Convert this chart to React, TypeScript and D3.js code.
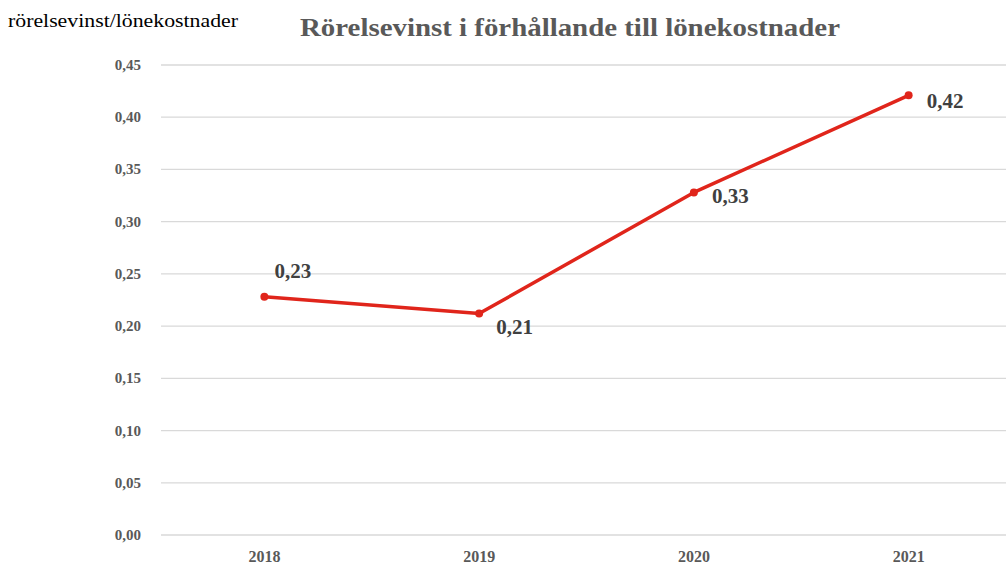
import React from "react";
import * as d3 from "d3";

const years = ["2018", "2019", "2020", "2021"];
const values = [0.228, 0.212, 0.328, 0.421];
const valueLabels = ["0,23", "0,21", "0,33", "0,42"];
const yTicks = [0, 0.05, 0.1, 0.15, 0.2, 0.25, 0.3, 0.35, 0.4, 0.45];
// label offset from its point
const labelOffsets: [number, number][] = [[10, -19], [17, 20], [18, 11], [18, 13]];

const W = 1006, H = 565;
const FONT = "'Liberation Serif', 'DejaVu Serif', serif";

const App = () => {
  const x = d3.scaleBand().domain(years).range([157, 1016]);
  const y = d3.scaleLinear().domain([0, 0.45]).range([535, 65]);
  const cx = (d: string) => (x(d) as number) + x.bandwidth() / 2;
  const fmt = (v: number) => v.toFixed(2).replace(".", ",");

  const line = d3
    .line<number>()
    .x((_, i) => cx(years[i]))
    .y(d => y(d));

  return (
    <div style={{ position: "absolute", left: 0, top: 0 }}>
      <svg width={W} height={H} style={{ display: "block", fontFamily: FONT }}>
        <rect width={W} height={H} fill="#fff" />
        <text x={8} y={27} fontSize={18} fill="#000" textLength={230} lengthAdjust="spacingAndGlyphs">
          rörelsevinst/lönekostnader
        </text>
        <text x={300} y={36} fontSize={25} fontWeight="bold" fill="#595959" textLength={540} lengthAdjust="spacingAndGlyphs">
          Rörelsevinst i förhållande till lönekostnader
        </text>
        {yTicks.map(t => (
          <g key={t}>
            <line x1={161} x2={W} y1={y(t)} y2={y(t)} stroke="#d9d9d9" strokeWidth={1.3} />
            <text x={141} y={y(t) + 5} fontSize={15} fontWeight="bold" fill="#595959" textAnchor="end">
              {fmt(t)}
            </text>
          </g>
        ))}
        {years.map(d => (
          <text key={d} x={cx(d)} y={562} fontSize={16} fontWeight="bold" fill="#595959" textAnchor="middle">
            {d}
          </text>
        ))}
        <path d={line(values) || ""} fill="none" stroke="#e0251b" strokeWidth={3.5} strokeLinejoin="round" />
        {values.map((v, i) => (
          <circle key={i} cx={cx(years[i])} cy={y(v)} r={4} fill="#e0251b" />
        ))}
        {values.map((v, i) => (
          <text
            key={"l" + i}
            x={cx(years[i]) + labelOffsets[i][0]}
            y={y(v) + labelOffsets[i][1]}
            fontSize={21}
            fontWeight="bold"
            fill="#404040"
          >
            {valueLabels[i]}
          </text>
        ))}
      </svg>
    </div>
  );
};

export default App;
